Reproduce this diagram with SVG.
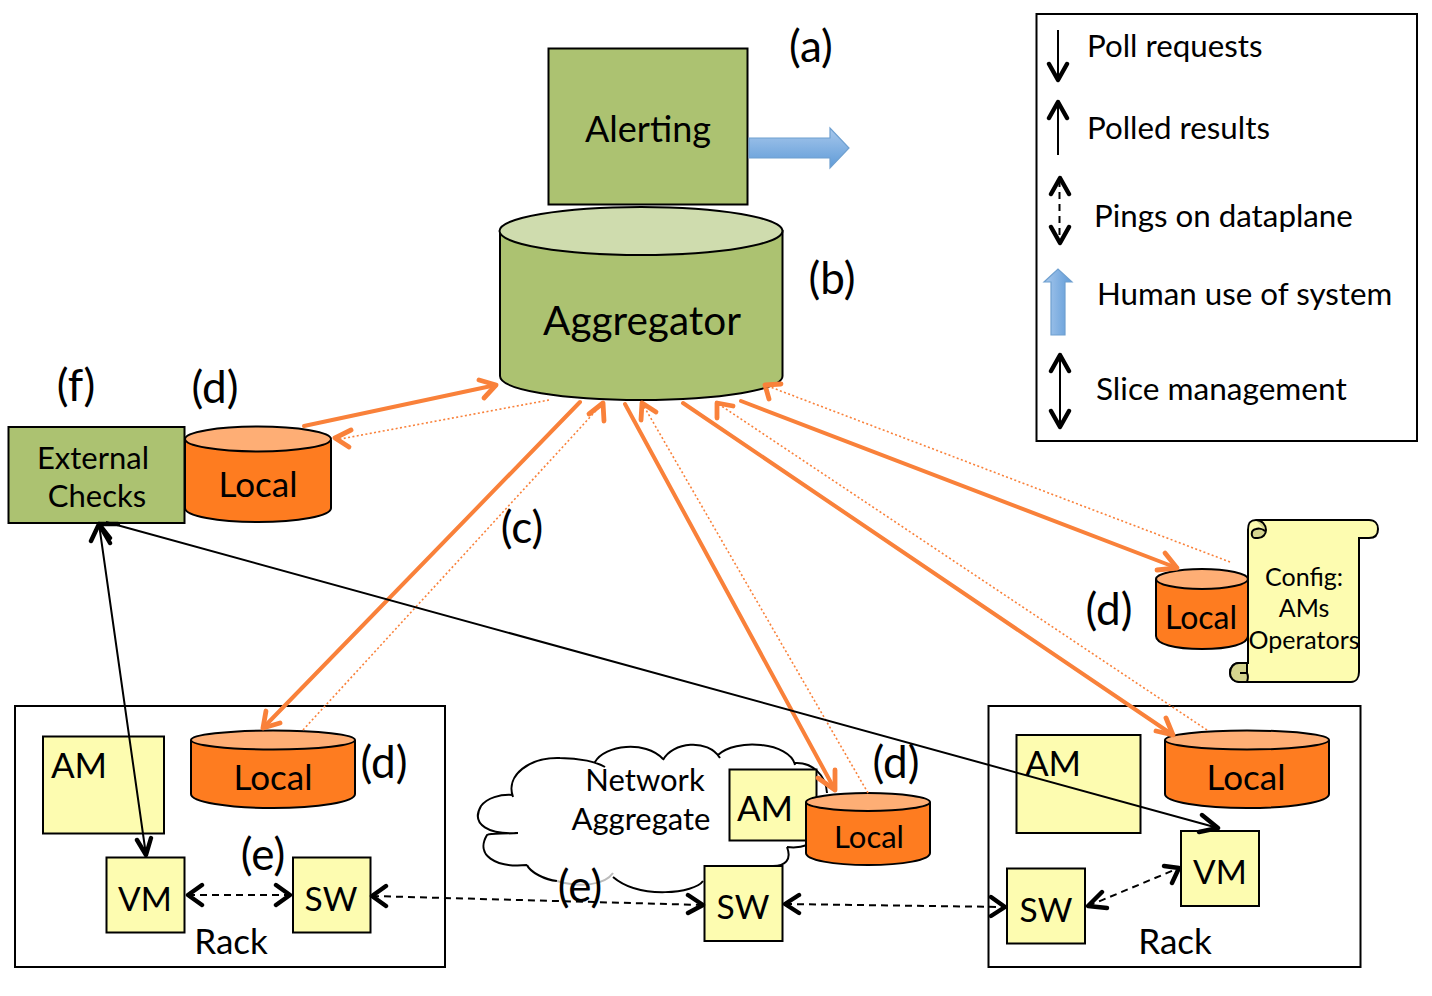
<svg xmlns="http://www.w3.org/2000/svg" width="1432" height="996" viewBox="0 0 1432 996">
<style>
text{font-family:"Lato","Open Sans","Liberation Sans",sans-serif;fill:#000;text-anchor:middle}
.s{stroke:#000;stroke-width:2}
.g{fill:#acc271}.y{fill:#fdfcb0}.o{fill:#fe7c20}.ot{fill:#feae75}.gt{fill:#cfdcae}
.f33{font-size:35px}.f36{font-size:33.500px}.f35{font-size:35px}.f30{font-size:31px}.f40{font-size:44px}.f27{font-size:25px}.fa{font-size:36px}.fb{font-size:40.500px}
.l{text-anchor:start;font-size:31.300px}
.or{fill:none;stroke:#f9813a;stroke-width:4;stroke-linecap:round;stroke-linejoin:round}
.oh{fill:none;stroke:#f9813a;stroke-width:4.800;stroke-linecap:round;stroke-linejoin:round}
.od{fill:none;stroke:#f9813a;stroke-width:1.600;stroke-dasharray:2 2.400}
.k{fill:none;stroke:#000;stroke-width:2}
.kd{fill:none;stroke:#000;stroke-width:2;stroke-dasharray:7 5}
.h{fill:none;stroke:#000;stroke-width:4.400;stroke-linecap:round;stroke-linejoin:round}
</style>
<defs>
<linearGradient id="b" x1="0" y1="0" x2="1" y2="0"><stop offset="0" stop-color="#a8c8ec"/><stop offset="1" stop-color="#5f9bd8"/></linearGradient>
<linearGradient id="b2" x1="0" y1="0" x2="0" y2="1"><stop offset="0" stop-color="#a8c8ec"/><stop offset="1" stop-color="#5f9bd8"/></linearGradient>
</defs>
<g id="legend">
<rect x="1036.500" y="14" width="380.500" height="427" fill="#fff" class="s"/>
<text class="l" x="1087" y="57">Poll requests</text>
<text class="l" x="1087" y="139">Polled results</text>
<text class="l" x="1094" y="227">Pings on dataplane</text>
<text class="l" x="1097" y="305">Human use of system</text>
<text class="l" x="1096" y="400" style="font-size:31.600px">Slice management</text>
<path class="k" d="M1058 30V80M1058 101V155M1060 355V426"/>
<path class="kd" stroke-dasharray="6 4" d="M1059.500 180V243"/>
<path class="h" d="M1049 64L1058 80L1067 64M1049 118L1058 102L1067 118M1051 194L1060 178L1069 194M1051 227L1060 243L1069 227M1051 371L1060 355L1069 371M1051 411L1060 427L1069 411"/>
<path fill="url(#b)" stroke="#6fa0d0" stroke-width="1.200" d="M1044 282L1058 269L1072 282H1065V335H1051V282Z"/>
</g>
<g id="alerting">
<rect x="548.500" y="48.500" width="199" height="156" class="g s"/>
<text class="fa" x="648" y="142">Alerting</text>
<path fill="url(#b2)" stroke="#6fa0d0" stroke-width="1.200" d="M749 138H830V128L849 148L830 168V158H749Z"/>
</g>
<g id="aggregator">
<path class="g s" d="M500 231V376C500 390 563 400 641 400S782.500 390 782.500 376V231Z"/>
<ellipse cx="641" cy="231" rx="141.500" ry="24" class="gt s"/>
<text class="fb" x="642" y="335">Aggregator</text>
</g>
<g id="external-checks">
<path class="o s" d="M185 441V508C185 516 218 522 258 522S331 516 331 508V441Z"/>
<ellipse cx="258" cy="439" rx="73" ry="12.500" class="ot s"/>
<text class="f33" x="258" y="497">Local</text>
<rect x="8.500" y="427" width="176" height="96" class="g s"/>
<text class="f30" x="93" y="469">External</text>
<text class="f30" x="97" y="507">Checks</text>
</g>
<g id="config">
<path class="y s" d="M1248 530C1248 523 1250 520 1256 520H1369C1375 520 1378 524 1378 529C1378 535 1375 538 1369 538H1359V672C1359 678 1356 682 1351 682H1239C1234 682 1230 678 1230 673C1230 667 1234 663 1239 663H1248Z"/>
<path fill="#d6d58e" stroke="#000" stroke-width="2" d="M1256 520C1262 520 1266 525 1266 530C1266 534 1263 538 1258 538H1255C1251 538 1250 530 1256 529C1259 528 1263 529 1265 531"/>
<path fill="#d6d58e" stroke="#000" stroke-width="2" d="M1247 663H1239C1234 663 1230 667 1230 673C1230 678 1234 682 1239 682H1247C1248 679 1248 675 1247 673Z"/>
<path fill="none" stroke="#000" stroke-width="2" d="M1240 673H1247V664"/>
<text class="f27" x="1304" y="586">Config:</text>
<text class="f27" x="1304" y="617">AMs</text>
<text class="f27" x="1304" y="649">Operators</text>
</g>
<g id="local-config">
<path class="o s" d="M1156 580V636C1156 644 1174 649 1202 649S1248 644 1248 636V580Z"/>
<ellipse cx="1202" cy="579" rx="46" ry="10" class="ot s"/>
<text style="font-size:32px" x="1201" y="629">Local</text>
</g>
<g id="rack-left">
<rect x="15" y="706" width="430" height="261" fill="#fff" class="s"/>
<rect x="43" y="736.500" width="121" height="97" class="y s"/>
<text class="f35" x="79" y="778">AM</text>
<path class="o s" d="M191 741V794C191 802 228 808 273 808S355 802 355 794V741Z"/>
<ellipse cx="273" cy="740" rx="82" ry="9.500" class="ot s"/>
<text class="f35" x="273" y="790">Local</text>
<rect x="106.500" y="857.500" width="78" height="75" class="y s"/>
<text class="f36" x="145" y="911">VM</text>
<rect x="293" y="857.500" width="77.500" height="75" class="y s"/>
<text class="f36" x="331" y="911">SW</text>
<text class="f35" x="231" y="954">Rack</text>
</g>
<g id="rack-right">
<rect x="988.500" y="706" width="372" height="261" fill="#fff" class="s"/>
<rect x="1016.500" y="735" width="124" height="98" class="y s"/>
<text class="f35" x="1053" y="776">AM</text>
<path class="o s" d="M1165 741V794C1165 802 1202 808 1247 808S1329 802 1329 794V741Z"/>
<ellipse cx="1247" cy="740" rx="82" ry="9.500" class="ot s"/>
<text class="f35" x="1246" y="790">Local</text>
<rect x="1181" y="831" width="78" height="75" class="y s"/>
<text class="f36" x="1220" y="884">VM</text>
<rect x="1007" y="868.500" width="78" height="75" class="y s"/>
<text class="f36" x="1046" y="922">SW</text>
<text class="f35" x="1175" y="954">Rack</text>
</g>
<g id="network-aggregate">
<path fill="#fff" d="M513 795L553 758L605 765L630 745L663 757L690 743L722 755L760 745L795 765L827 793L807 845L787 847L773 865L703 882L670 893L613 877L570 885L527 865L487 850L483 826L480 813Z"/>
<path fill="none" stroke="#000" stroke-width="2" d="M513 797C505 775 530 757 560 758C580 758 597 762 605 767M595 762C605 745 645 740 663 759M663 760C672 742 708 738 720 758M718 755C735 738 790 742 795 765M795 763C812 762 826 775 827 793M787 847C792 860 785 866 773 866M787 847C795 848 802 847 807 845M703 881C695 893 640 900 613 877M527 865C530 872 545 880 557 881M527 865C495 868 475 855 487 835C490 833 500 834 518 833M518 833C490 835 470 825 481 806C487 798 500 794 513 795"/>
<path fill="none" stroke="#bbb" stroke-width="2" d="M557 881C580 888 605 885 613 873"/>
<text class="f30" x="645" y="791">Network</text>
<text class="f30" x="641" y="830">Aggregate</text>
<rect x="729.500" y="769.500" width="87" height="71" class="y s"/>
<text class="f35" x="765" y="821">AM</text>
<path class="o s" d="M806 803V853C806 860 833 865 868 865S930 860 930 853V803Z"/>
<ellipse cx="868" cy="802" rx="62" ry="9" class="ot s"/>
<text class="f30" x="869" y="848">Local</text>
<rect x="704.500" y="866" width="78" height="75" class="y s"/>
<text class="f36" x="743" y="919">SW</text>
</g>
<g id="connectors">
<path class="or" d="M304 426L496 385"/><path class="oh" d="M479 380L496 385L484 398"/>
<path class="od" d="M549 400L335 440"/>
<path class="oh" d="M351 430L335 438L349 447"/>
<path class="or" d="M580 402L263 728"/><path class="oh" d="M266 711L263 728L280 723"/>
<path class="od" d="M303 730L603 403"/>
<path class="oh" d="M589 414L603 403L604 421"/>
<path class="or" d="M625 404L835 790"/><path class="oh" d="M818 778L835 790L835 770"/>
<path class="od" d="M868 793L642 403"/>
<path class="oh" d="M641 420L642 403L656 412"/>
<path class="or" d="M683 403L1173 735"/><path class="oh" d="M1156 731L1173 735L1166 718"/>
<path class="od" d="M1207 730L717 403"/>
<path class="oh" d="M717 418L717 403L733 406"/>
<path class="or" d="M741 401L1177 568"/><path class="oh" d="M1157 570L1177 568L1165 553"/>
<path class="od" d="M1230 562L765 385"/>
<path class="oh" d="M769 399L765 385L781 384"/>
<path class="k" d="M99 524L146 855M106 522L1218 828"/>
<path class="h" d="M91 541L99 524L110 538M118 524L99 524L110 543M137 840L146 855L151 838M1202 815L1218 828L1199 832"/>
<path class="kd" d="M188 895H290M372 896L703 905M785 904L1005 907M1088 906L1179 868"/>
<path class="h" d="M202 885L188 895L202 905M276 885L290 895L276 905M386 886L372 896L386 906M688 895L703 905L688 913M799 895L785 904L799 913M991 897L1005 907L991 916M1102 892L1088 906L1107 908M1164 866L1179 868L1172 883"/>
</g>
<g id="labels">
<text class="f40" x="811" y="62">(a)</text>
<text class="f40" x="832" y="294">(b)</text>
<text class="f40" x="522" y="543">(c)</text>
<text class="f40" x="76" y="401">(f)</text>
<text class="f40" x="215" y="403">(d)</text>
<text class="f40" x="1109" y="625">(d)</text>
<text class="f40" x="384" y="778">(d)</text>
<text class="f40" x="896" y="778">(d)</text>
<text class="f40" x="263" y="870">(e)</text>
<text class="f40" x="580" y="902">(e)</text>
</g>
</svg>
